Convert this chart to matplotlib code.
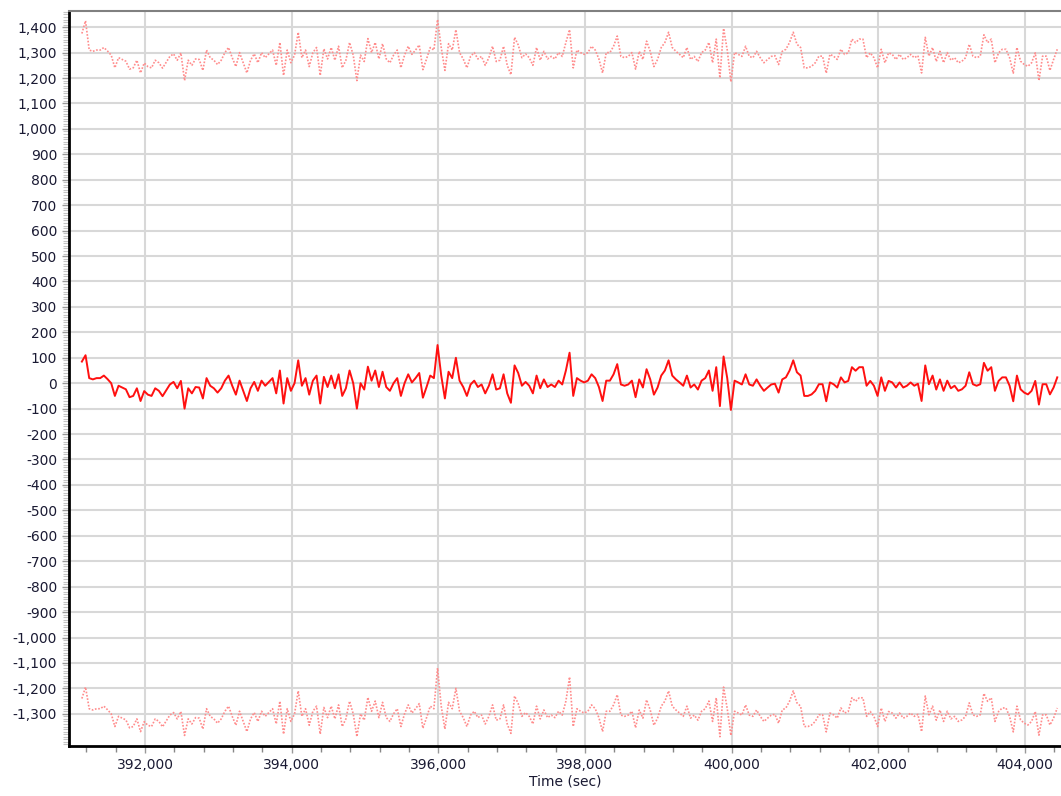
import numpy as np
import matplotlib
matplotlib.use("Agg")
import matplotlib.pyplot as plt
from matplotlib.ticker import MultipleLocator, FuncFormatter

# sampling of the time axis (sec)
t_start = 391140
t_step = 50

# middle trace (solid red)
mid = [
    85, 110, 20, 15, 20, 20, 30, 16, 0, -50, -10, -17, -24, -55, -50, -20, -70, -31, -45, -50,
    -20, -30, -51, -28, -5, 5, -20, 9, -100, -20, -40, -15, -17, -60, 20, -10, -20, -37, -20, 10,
    30, -10, -45, 10, -30,
    -70, -20, 5, -30, 10, -10, 5, 20, -40, 50, -80, 20, -30, 0, 90, -10, 20, -45, 10, 30,
    -80, 25, -15, 30, -20, 35, -50, -20, 50, 0, -100, 0, -25, 65, 10, 50, -15, 45, -15, -30,
    0, 20, -50, 0, 35,
    3, 20, 40, -57, -15, 30, 20, 150, 30, -60, 45, 20, 100, 10, -15, -50, -5, 10, -15, -5,
    -40, -10, 35, -25, -20, 35, -40, -77, 70, 40, -10, 5, -10, -40, 30, -20, 15, -15, -5, -15,
    10, -5, 50, 120, -50,
    20, 10, 3, 10, 35, 20, -15, -70, 10, 10, 35, 75, -5, -10, -5, 10, -55, 15, -17, 55,
    15, -45, -17, 30, 50, 90, 30, 15, 3, -10, 30, -17, -5, -25, 10, 20, 50, -30, 63, -90,
    105, 20, -105, 10, 3,
    -5, 35, -5, -10, 15, -10, -30, -17, -5, -2, -37, 15, 23, 50, 90, 43, 30, -50, -50, -44,
    -30, -4, -4, -71, 3, -4, -17, 23, 3, 9, 63, 49, 63, 63, -10, 9, -10, -50, 23, -30,
    9, 3, -17, 3, -17,
    -10, 3, -10, -2, -70, 70, -4, 30, -25, 15, -30, 10, -20, -10, -30, -24, -10, 43, -4, -10,
    -4, 80, 49, 63, -30, 9, 23, 23, -10, -71, 30, -24, -37, -44, -30, 9, -84, -4, -4, -44,
    -17, 23,
]

# upper trace (dotted, light red)
upper = [
    1375, 1425, 1310, 1305, 1310, 1310, 1320, 1306, 1290, 1240, 1280, 1273, 1266, 1235, 1240, 1270, 1220, 1259, 1245, 1240,
    1270, 1260, 1239, 1262, 1285, 1295, 1270, 1299, 1190, 1270, 1250, 1275, 1273, 1230, 1310, 1280, 1270, 1253, 1270, 1300,
    1320, 1280, 1245, 1300, 1260,
    1220, 1270, 1295, 1260, 1300, 1280, 1295, 1310, 1250, 1340, 1210, 1310, 1260, 1290, 1380, 1280, 1310, 1245, 1300, 1320,
    1210, 1315, 1275, 1320, 1270, 1325, 1240, 1270, 1340, 1290, 1190, 1290, 1265, 1355, 1300, 1340, 1275, 1335, 1275, 1260,
    1290, 1310, 1240, 1290, 1325,
    1293, 1310, 1330, 1233, 1275, 1320, 1310, 1430, 1320, 1230, 1335, 1310, 1390, 1300, 1275, 1240, 1285, 1300, 1275, 1285,
    1250, 1280, 1325, 1265, 1270, 1325, 1250, 1213, 1360, 1330, 1280, 1295, 1280, 1250, 1320, 1270, 1305, 1275, 1285, 1275,
    1300, 1285, 1340, 1390, 1240,
    1310, 1300, 1293, 1300, 1325, 1310, 1275, 1220, 1300, 1300, 1325, 1365, 1285, 1280, 1285, 1300, 1235, 1305, 1273, 1345,
    1305, 1245, 1273, 1320, 1340, 1380, 1320, 1305, 1293, 1280, 1320, 1273, 1285, 1265, 1300, 1310, 1340, 1260, 1353, 1200,
    1395, 1310, 1185, 1300, 1293,
    1285, 1325, 1285, 1280, 1305, 1280, 1260, 1273, 1285, 1288, 1253, 1305, 1313, 1340, 1380, 1333, 1320, 1240, 1240, 1246,
    1260, 1286, 1286, 1219, 1293, 1286, 1273, 1313, 1293, 1299, 1353, 1339, 1353, 1353, 1280, 1299, 1280, 1240, 1313, 1260,
    1299, 1293, 1273, 1293, 1273,
    1280, 1293, 1280, 1288, 1220, 1360, 1286, 1320, 1265, 1305, 1260, 1300, 1270, 1280, 1260, 1266, 1280, 1333, 1286, 1280,
    1286, 1370, 1339, 1353, 1260, 1299, 1313, 1313, 1280, 1219, 1320, 1266, 1253, 1246, 1260, 1299, 1190, 1286, 1286, 1230,
    1273, 1313,
]

# lower trace (dotted, light red)
lower = [
    -1240, -1195, -1280, -1285, -1280, -1280, -1270, -1284, -1300, -1350, -1310, -1317, -1324, -1355, -1350, -1320, -1370, -1331, -1345, -1350,
    -1320, -1330, -1351, -1328, -1305, -1295, -1320, -1291, -1385, -1320, -1340, -1315, -1317, -1360, -1280, -1310, -1320, -1337, -1320, -1290,
    -1270, -1310, -1345, -1290, -1330,
    -1370, -1320, -1295, -1330, -1290, -1310, -1295, -1280, -1340, -1250, -1380, -1280, -1330, -1300, -1210, -1310, -1280, -1345, -1290, -1270,
    -1380, -1275, -1315, -1270, -1320, -1265, -1350, -1320, -1250, -1300, -1390, -1300, -1325, -1235, -1290, -1250, -1315, -1255, -1315, -1330,
    -1300, -1280, -1350, -1300, -1265,
    -1297, -1280, -1260, -1357, -1315, -1270, -1280, -1120, -1270, -1360, -1255, -1280, -1200, -1290, -1315, -1350, -1305, -1290, -1315, -1305,
    -1340, -1310, -1265, -1325, -1320, -1265, -1340, -1377, -1230, -1260, -1310, -1295, -1310, -1340, -1270, -1320, -1285, -1315, -1305, -1315,
    -1290, -1305, -1250, -1155, -1350,
    -1280, -1290, -1297, -1290, -1265, -1280, -1315, -1370, -1290, -1290, -1265, -1225, -1305, -1310, -1305, -1290, -1355, -1285, -1317, -1245,
    -1285, -1345, -1317, -1270, -1250, -1210, -1270, -1285, -1297, -1310, -1270, -1317, -1305, -1325, -1290, -1280, -1250, -1330, -1237, -1390,
    -1195, -1280, -1385, -1290, -1297,
    -1305, -1265, -1305, -1310, -1285, -1310, -1330, -1317, -1305, -1302, -1337, -1285, -1277, -1250, -1210, -1257, -1270, -1350, -1350, -1344,
    -1330, -1304, -1304, -1371, -1297, -1304, -1317, -1277, -1297, -1291, -1237, -1251, -1237, -1237, -1310, -1291, -1310, -1350, -1277, -1330,
    -1291, -1297, -1317, -1297, -1317,
    -1310, -1297, -1310, -1302, -1370, -1230, -1304, -1270, -1325, -1285, -1330, -1290, -1320, -1310, -1330, -1324, -1310, -1257, -1304, -1310,
    -1304, -1220, -1251, -1237, -1330, -1291, -1277, -1277, -1310, -1371, -1270, -1324, -1337, -1344, -1330, -1291, -1384, -1304, -1304, -1344,
    -1317, -1277,
]

t = t_start + t_step * np.arange(len(mid))

fig = plt.figure(figsize=(10.61, 7.96), dpi=100)
ax = fig.add_axes([0.065, 0.063, 0.935, 0.923])

ax.plot(t, upper, color="#ff8c8c", linestyle=(0, (1, 1)), linewidth=1.2)
ax.plot(t, lower, color="#ff8c8c", linestyle=(0, (1, 1)), linewidth=1.2)
ax.plot(t, mid, color="#ff1010", linewidth=1.4)

ax.set_xlim(390964, 404491)
ax.set_ylim(-1426, 1463)

ax.xaxis.set_major_locator(MultipleLocator(2000))
ax.xaxis.set_minor_locator(MultipleLocator(400))
ax.set_yticks(np.arange(-1300, 1401, 100))
ax.yaxis.set_minor_locator(MultipleLocator(10))
fmt = FuncFormatter(lambda v, p: f"{v:,.0f}")
ax.xaxis.set_major_formatter(fmt)
ax.yaxis.set_major_formatter(fmt)

ax.grid(True, which="major", color="#d8d8d8", linewidth=1.5)
ax.set_axisbelow(True)

ax.tick_params(axis="both", which="major", labelsize=10, labelcolor="#1a1a33",
               color="#999999", length=5, width=1)
ax.tick_params(axis="y", which="minor", color="#c4c4c4", length=4, width=0.8)
ax.tick_params(axis="x", which="minor", color="#888888", length=4, width=1)

ax.spines["left"].set_color("black")
ax.spines["left"].set_linewidth(2)
ax.spines["bottom"].set_color("black")
ax.spines["bottom"].set_linewidth(2)
ax.spines["top"].set_color("#808080")
ax.spines["top"].set_linewidth(1.5)
ax.spines["right"].set_visible(False)

ax.set_xlabel("Time (sec)", fontsize=10, color="#1a1a33", labelpad=2)

fig.savefig("out.png", dpi=100)
